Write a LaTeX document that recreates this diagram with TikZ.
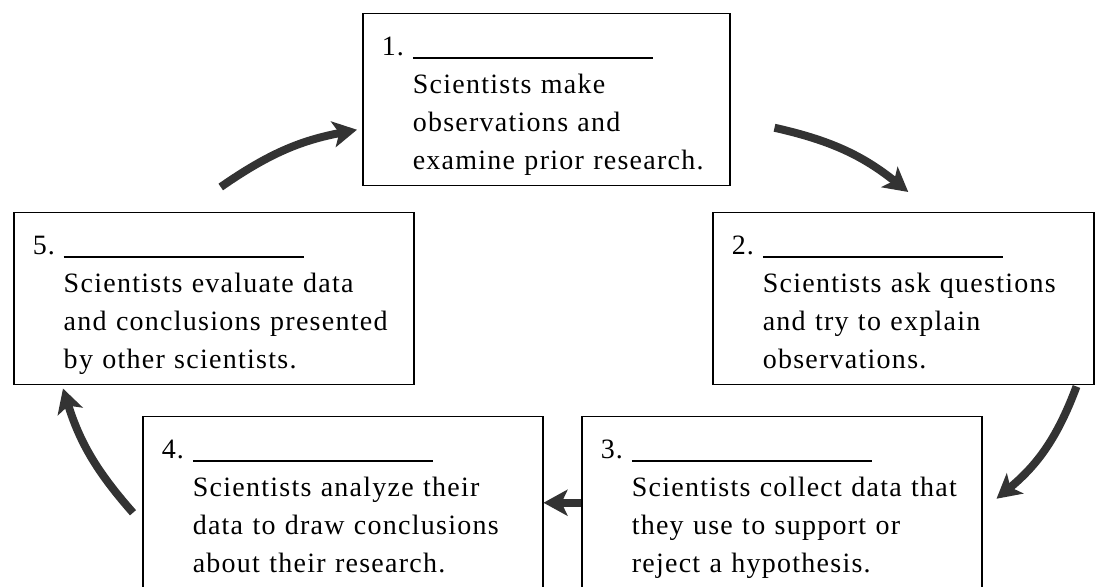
\documentclass[tikz,border=0pt]{standalone}
\usepackage{fontspec}
\setmainfont[LetterSpace=4.5]{Liberation Serif}
\usetikzlibrary{arrows.meta}

\definecolor{arrowgray}{HTML}{333333}

\newcommand{\cardtext}[4]{\rule{0pt}{18.7pt}\makebox[15.5pt][l]{#1.}\rule[-1.5pt]{120pt}{0.7pt}\\
  \hspace*{15.5pt}\mbox{#2}\\
  \hspace*{15.5pt}\mbox{#3}\\
  \hspace*{15.5pt}\mbox{#4}\rule[-5.7pt]{0pt}{5.7pt}}

\begin{document}
\begin{tikzpicture}[
    x=0.5pt, y=-0.5pt,
    card/.style={draw=black, line width=0.75pt, anchor=north west, inner xsep=9.5pt, inner ysep=0pt,
                 minimum height=86pt, align=left, font=\fontsize{14}{19}\selectfont},
    arrow/.style={-{Stealth[length=12pt, width=13pt, inset=3pt]}, line width=4pt, draw=arrowgray}
]
\useasboundingbox (0,0) rectangle (1100,587);

\node[card, text width=164.5pt] (b1) at (362,13) {\cardtext{1}{Scientists make}{observations and}{examine prior research.}};
\node[card, text width=171.5pt] (b2) at (712,212) {\cardtext{2}{Scientists ask questions}{and try to explain}{observations.}};
\node[card, text width=181pt] (b3) at (581,416) {\cardtext{3}{Scientists collect data that}{they use to support or}{reject a hypothesis.}};
\node[card, text width=181pt] (b4) at (142,416) {\cardtext{4}{Scientists analyze their}{data to draw conclusions}{about their research.}};
\node[card, text width=181pt] (b5) at (13,212) {\cardtext{5}{Scientists evaluate data}{and conclusions presented}{by other scientists.}};

\draw[arrow] ([shift={(7,-25)}]b5.north) to[bend left=12] ([shift={(-5,30)}]b1.west);
\draw[arrow] ([shift={(44,28)}]b1.east) to[bend left=13] ([shift={(5,-20)}]b2.north);
\draw[arrow] ([shift={(-18,1)}]b2.south east) to[bend left=15] ([shift={(14,-4)}]b3.east);
\draw[arrow] (b3.west) -- (b4.east);
\draw[arrow] ([shift={(-9,10)}]b4.west) to[bend left=12] ([shift={(50,3)}]b5.south west);

\end{tikzpicture}
\end{document}
